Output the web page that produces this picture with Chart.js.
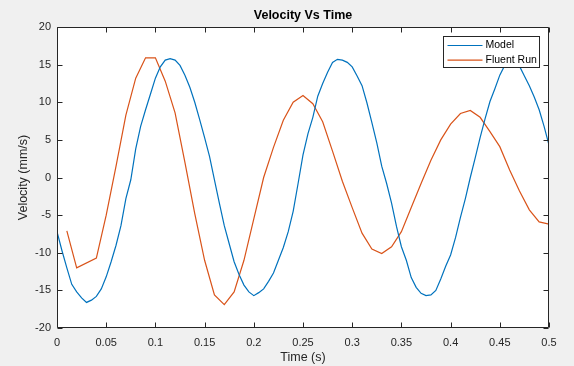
<!DOCTYPE html>
<html><head><meta charset="utf-8">
<script src="https://cdn.jsdelivr.net/npm/chart.js@4.4.0/dist/chart.umd.min.js"></script>
<style>html,body{margin:0;padding:0;background:#f0f0f0;overflow:hidden;} #wrap{width:574px;height:366px;}</style>
</head><body><div id="wrap"><canvas id="c" width="574" height="366"></canvas></div>
<script>
const chartTitle = "Velocity Vs Time";
const xLabel = "Time (s)";
const yLabel = "Velocity (mm/s)";
const seriesNames = ["Model", "Fluent Run"];
const xTicks = [0, 0.05, 0.1, 0.15, 0.2, 0.25, 0.3, 0.35, 0.4, 0.45, 0.5];
const yTicks = [-20, -15, -10, -5, 0, 5, 10, 15, 20];

const modelTime = [0.000,0.005,0.010,0.015,0.020,0.025,0.030,0.035,0.040,0.045,
  0.050,0.055,0.060,0.065,0.070,0.075,0.080,0.085,0.090,0.095,
  0.100,0.105,0.110,0.115,0.120,0.125,0.130,0.135,0.140,0.145,
  0.150,0.155,0.160,0.165,0.170,0.175,0.180,0.185,0.190,0.195,
  0.200,0.205,0.210,0.215,0.220,0.225,0.230,0.235,0.240,0.245,
  0.250,0.255,0.260,0.265,0.270,0.275,0.280,0.285,0.290,0.295,
  0.300,0.305,0.310,0.315,0.320,0.325,0.330,0.335,0.340,0.345,
  0.350,0.355,0.360,0.365,0.370,0.375,0.380,0.385,0.390,0.395,
  0.400,0.405,0.410,0.415,0.420,0.425,0.430,0.435,0.440,0.445,
  0.450,0.455,0.460,0.465,0.470,0.475,0.480,0.485,0.490,0.495,0.500];
const modelVelocity = [-7.2,-9.7,-12.0,-14.2,-15.2,-16.0,-16.6,-16.3,-15.8,-14.8,
  -13.2,-11.2,-9.0,-6.4,-2.8,-0.3,3.8,6.8,9.0,11.1,
  13.2,14.7,15.6,15.8,15.6,14.9,13.6,12.0,10.0,7.7,
  5.3,2.8,-0.3,-3.4,-6.4,-8.8,-11.2,-12.9,-14.3,-15.2,
  -15.7,-15.3,-14.8,-13.8,-12.7,-11.0,-9.3,-7.2,-4.5,-0.8,
  3.0,5.8,8.0,10.8,12.5,14.0,15.3,15.7,15.6,15.3,
  14.7,13.5,12.2,9.9,7.3,4.6,1.5,-0.8,-3.4,-6.5,
  -9.2,-11.0,-13.3,-14.6,-15.4,-15.7,-15.6,-15.0,-13.5,-11.8,
  -10.3,-8.0,-5.3,-2.8,0.0,2.6,5.3,7.8,10.1,11.8,
  13.6,14.9,15.6,15.7,14.8,13.5,12.2,10.7,9.0,6.8,4.3];

const fluentTime = [0.01,0.02,0.04,0.05,0.06,0.07,0.08,0.09,0.10,
  0.11,0.12,0.13,0.14,0.15,0.16,0.17,0.18,0.19,0.20,
  0.21,0.22,0.23,0.24,0.25,0.26,0.27,0.28,0.29,0.30,
  0.31,0.32,0.33,0.34,0.35,0.36,0.37,0.38,0.39,0.40,
  0.41,0.42,0.43,0.44,0.45,0.46,0.47,0.48,0.49,0.50];
const fluentVelocity = [-7.1,-12.0,-10.7,-5.0,1.5,8.3,13.2,15.9,15.9,
  12.8,8.6,2.0,-4.8,-11.0,-15.6,-16.9,-15.2,-11.0,-5.5,
  0.0,4.0,7.6,10.0,10.9,9.8,7.4,3.5,-0.5,-4.0,
  -7.4,-9.5,-10.1,-9.2,-7.2,-4.0,-0.8,2.3,5.0,7.1,
  8.5,8.9,8.0,6.1,4.1,1.0,-1.8,-4.3,-5.9,-6.2];

const seriesColors = ["#0072BD", "#D95319"];
const FONT = "'Liberation Sans', Arial, Helvetica, sans-serif";
const AXIS = "#262626";

const toXY = (xs, ys) => xs.map((x, i) => ({x: x, y: ys[i]}));

const mPlugin = {
  id: 'matlabAxes',
  beforeDraw(chart) {
    const {ctx, chartArea: a} = chart;
    ctx.save();
    ctx.fillStyle = '#ffffff';
    ctx.fillRect(a.left, a.top, a.right - a.left, a.bottom - a.top);
    ctx.restore();
  },
  afterDatasetsDraw(chart) {
    const {ctx, chartArea: a, scales} = chart;
    ctx.save();
    ctx.strokeStyle = AXIS;
    ctx.lineWidth = 1;
    const L = Math.round(a.left) + 0.5, R = Math.round(a.right) - 0.5;
    const T = Math.round(a.top) + 0.5, B = Math.round(a.bottom) - 0.5;
    ctx.beginPath();
    ctx.rect(L, T, R - L, B - T);
    xTicks.forEach(v => {
      const p = Math.round(scales.x.getPixelForValue(v)) + 0.5;
      ctx.moveTo(p, B); ctx.lineTo(p, B - 5);
      ctx.moveTo(p, T); ctx.lineTo(p, T + 5);
    });
    yTicks.forEach(v => {
      const p = Math.round(scales.y.getPixelForValue(v)) + 0.5;
      ctx.moveTo(L, p); ctx.lineTo(L + 5, p);
      ctx.moveTo(R, p); ctx.lineTo(R - 5, p);
    });
    ctx.stroke();

    // legend
    const bw = 96, bh = 31;
    const bx = Math.round(a.right - 10 - bw) + 0.5;
    const by = Math.round(a.top + 9) + 0.5;
    ctx.fillStyle = '#ffffff';
    ctx.fillRect(bx, by, bw, bh);
    ctx.strokeStyle = AXIS;
    ctx.strokeRect(bx, by, bw, bh);
    ctx.font = "10.5px " + FONT;
    ctx.textBaseline = 'middle';
    ctx.textAlign = 'left';
    chart.data.datasets.forEach((ds, i) => {
      const yy = by + 9 + i * 14.7;
      ctx.strokeStyle = ds.borderColor;
      ctx.lineWidth = 1.2;
      ctx.beginPath();
      ctx.moveTo(bx + 4, yy); ctx.lineTo(bx + 39, yy);
      ctx.stroke();
      ctx.fillStyle = '#000000';
      ctx.fillText(ds.label, bx + 42, yy);
    });
    ctx.restore();
  }
};

new Chart(document.getElementById('c'), {
  type: 'line',
  data: {
    datasets: [
      {label: seriesNames[0], data: toXY(modelTime, modelVelocity), borderColor: seriesColors[0], backgroundColor: seriesColors[0], borderWidth: 1.2, pointRadius: 0, tension: 0, fill: false},
      {label: seriesNames[1], data: toXY(fluentTime, fluentVelocity), borderColor: seriesColors[1], backgroundColor: seriesColors[1], borderWidth: 1.2, pointRadius: 0, tension: 0, fill: false}
    ]
  },
  options: {
    responsive: false,
    animation: false,
    devicePixelRatio: 1,
    layout: {padding: {left: 0, right: 25, top: 0, bottom: 0}},
    plugins: {
      legend: {display: false},
      tooltip: {enabled: false},
      title: {
        display: true, text: chartTitle, color: '#000000', fullSize: false,
        font: {family: FONT, size: 12.5, weight: 'bold'},
        padding: {top: 8, bottom: 4}
      }
    },
    scales: {
      x: {
        type: 'linear', min: 0, max: 0.5,
        afterBuildTicks: s => { s.ticks = xTicks.map(v => ({value: v})); },
        afterFit: s => { s.height = 38; },
        grid: {display: false, drawTicks: false},
        border: {display: false},
        ticks: {color: AXIS, font: {family: FONT, size: 11}, padding: 8, maxRotation: 0, autoSkip: false, callback: v => String(v)},
        title: {display: true, text: xLabel, color: AXIS, font: {family: FONT, size: 12.5}, padding: {top: 0, bottom: 1}}
      },
      y: {
        type: 'linear', min: -20, max: 20,
        afterBuildTicks: s => { s.ticks = yTicks.map(v => ({value: v})); },
        afterFit: s => { s.width = 57; },
        grid: {display: false, drawTicks: false},
        border: {display: false},
        ticks: {color: AXIS, font: {family: FONT, size: 11}, padding: 6, autoSkip: false, callback: v => String(v)},
        title: {display: true, text: yLabel, color: AXIS, font: {family: FONT, size: 12.5}, padding: {top: 16.5, bottom: 0}}
      }
    }
  },
  plugins: [mPlugin]
});
</script>
</body></html>
